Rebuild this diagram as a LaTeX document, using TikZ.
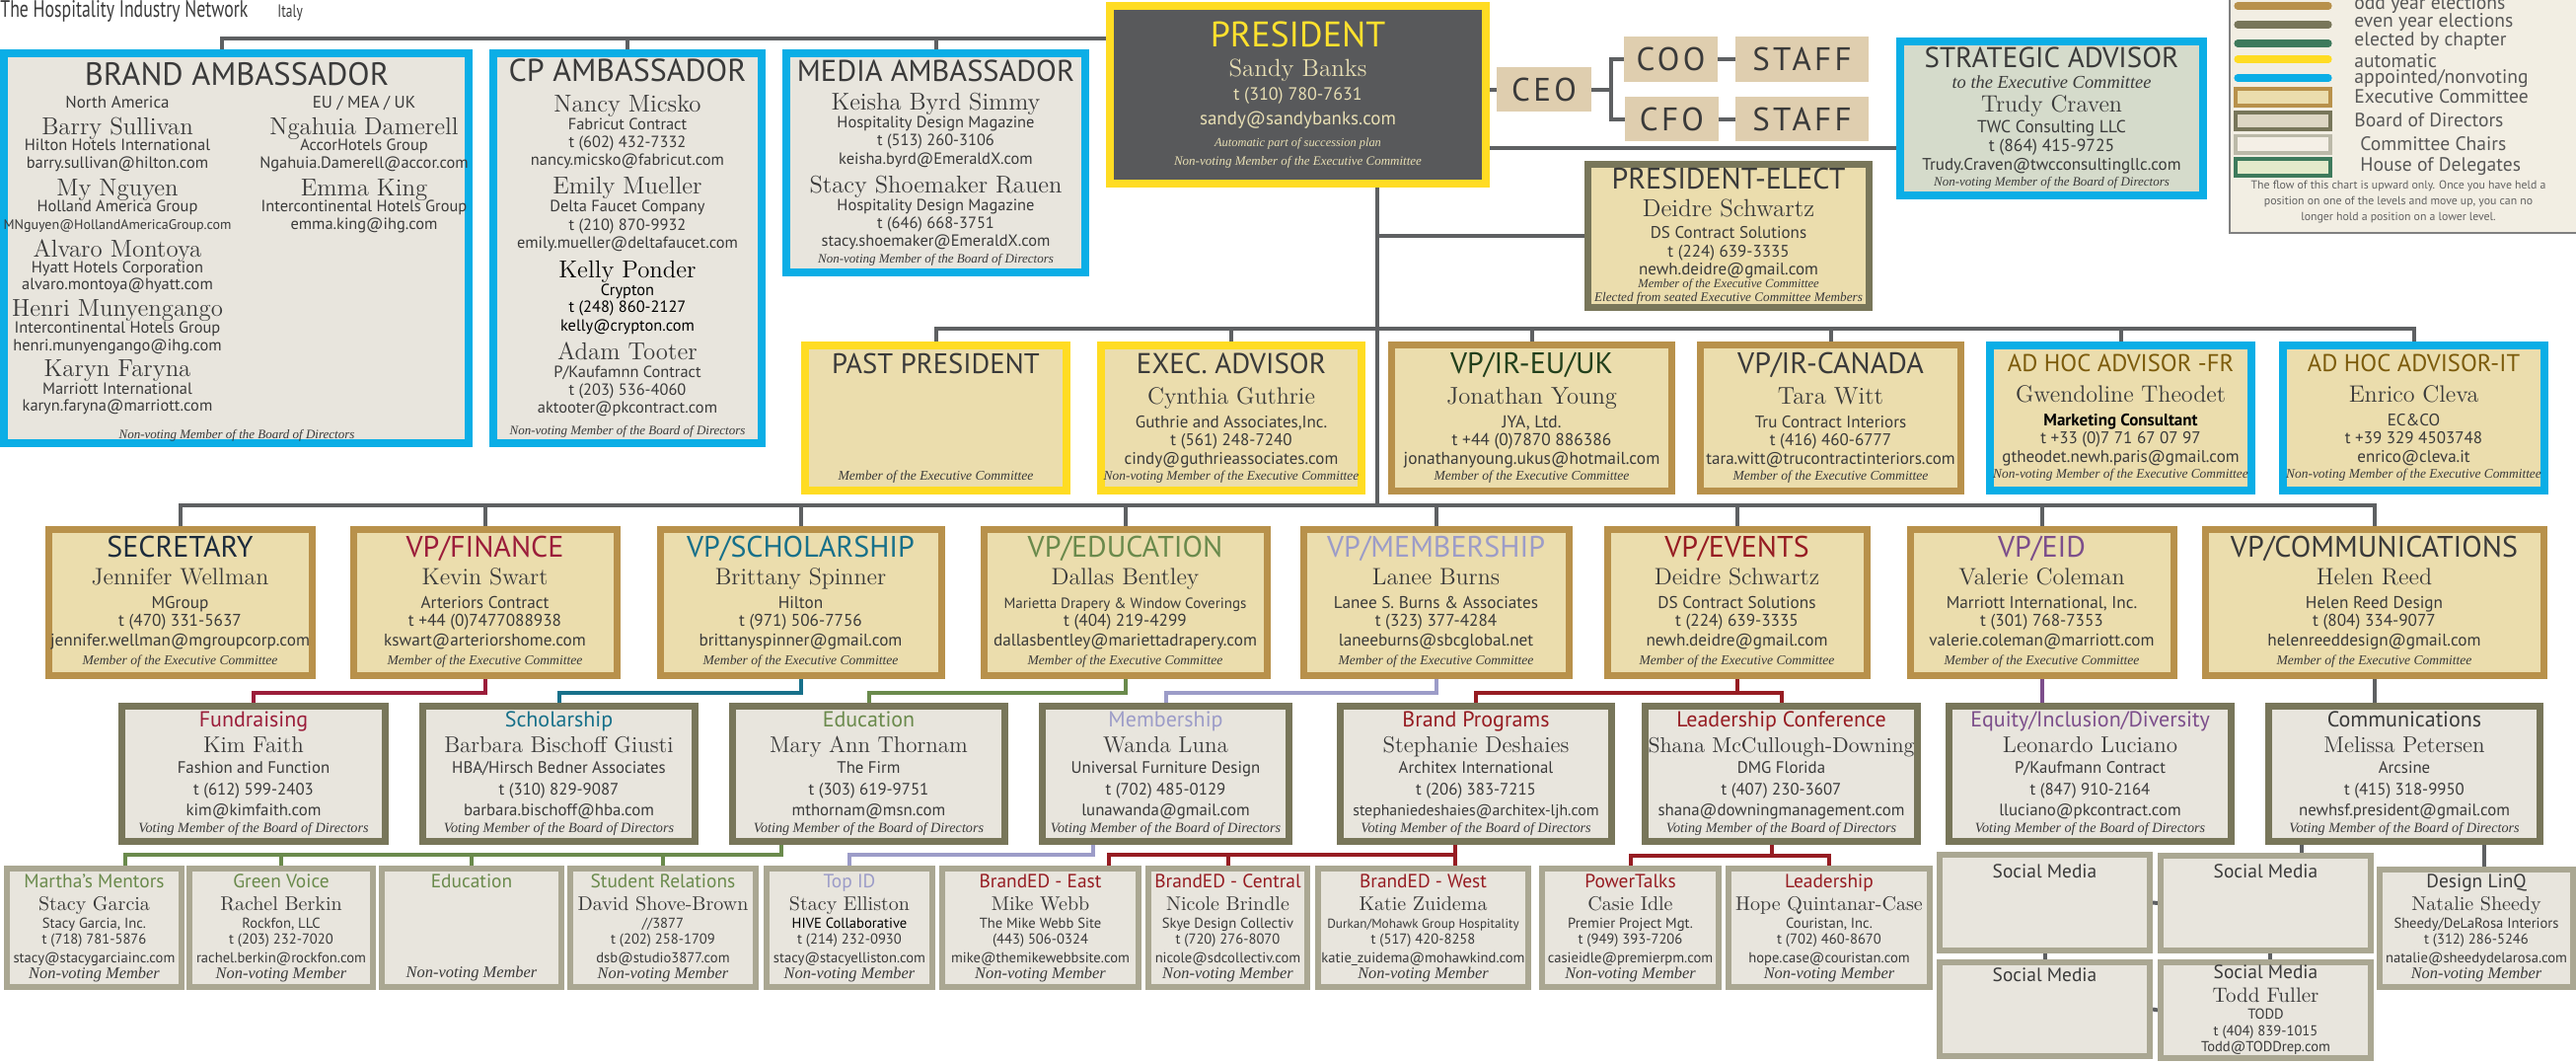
\documentclass[tikz,border=0pt]{standalone}
\usepackage{fontspec}
\setsansfont{PT Sans}
\newfontfamily\notefont{Liberation Serif}
\usepackage{graphicx}
\usepackage{tikz}
\usetikzlibrary{backgrounds}

\definecolor{apptblue}{HTML}{0BAEE6}
\definecolor{autoyel}{HTML}{FFDC23}
\definecolor{oddgold}{HTML}{B8914B}
\definecolor{evenolive}{HTML}{78765A}
\definecolor{chapgreen}{HTML}{3E7A5C}
\definecolor{chairgray}{HTML}{AAA792}
\definecolor{cream}{HTML}{EBDDAD}
\definecolor{stone}{HTML}{E8E5DD}
\definecolor{sage}{HTML}{D5DBCB}
\definecolor{slate}{HTML}{58595B}
\definecolor{ceotan}{HTML}{DFCEAF}
\definecolor{linkgray}{HTML}{5E6062}
\definecolor{inkgray}{HTML}{3A3A3A}
\definecolor{finred}{HTML}{9B1D3A}
\definecolor{schteal}{HTML}{17708A}
\definecolor{edugreen}{HTML}{6A8A4C}
\definecolor{memlav}{HTML}{9C9CC8}
\definecolor{evtred}{HTML}{961C22}
\definecolor{eidpurple}{HTML}{7C4E8B}
\definecolor{secnavy}{HTML}{1C2B3C}
\definecolor{irgreen}{HTML}{22401C}
\definecolor{adhocgold}{HTML}{7C5B0B}
\definecolor{paletan}{HTML}{E8DFB4}
\definecolor{presyel}{HTML}{FFE12E}
\definecolor{legendbg}{HTML}{F2EEE3}
\definecolor{boardfill}{HTML}{DDD6C3}
\definecolor{chairfill}{HTML}{F4EFE6}
\definecolor{housefill}{HTML}{E3EACB}

\newcommand\sff[1]{\sffamily\upshape\mdseries\fontsize{#1}{0}\selectfont}
\newcommand\rmf[1]{\rmfamily\upshape\fontsize{#1}{0}\selectfont}
\newcommand\itf[1]{\notefont\itshape\fontsize{#1}{0}\selectfont}
\newcommand\spaced{\addfontfeature{LetterSpace=10}}

\newcommand\vpcard[6]{{\sff{15}\color{#1}#2}\\[14pt]{\rmf{12}#3}\\[12pt]{\sff{8.6}#4}\\[9pt]{\sff{8.6}#5}\\[10pt]{\sff{8.6}#6}\\[9.5pt]{\itf{6.8}Member of the Executive Committee}}
\newcommand\bdcard[6]{{\sff{11}\color{#1}#2}\\[13pt]{\rmf{11.5}#3}\\[10.5pt]{\sff{8.4}#4}\\[11pt]{\sff{8.4}#5}\\[10.5pt]{\sff{8.4}#6}\\[8.5pt]{\itf{7.1}Voting Member of the Board of Directors}}
\newcommand\chcard[6]{{\sff{9.7}\color{#1}#2}\\[11.5pt]{\rmf{10}#3}\\[9pt]{\sff{7.3}#4}\\[8pt]{\sff{7.3}#5}\\[9.5pt]{\sff{7.3}#6}\\[8pt]{\itf{8.2}Non-voting Member}}

\begin{document}
\begin{tikzpicture}[x=0.5pt, y=-0.5pt,
  txt/.style={inner sep=0pt, align=center, text=inkgray, font={\fontsize{8}{0}\selectfont\lineskiplimit=-100pt\relax}},
  card/.style={txt, rectangle},
  appt/.style={card, draw=apptblue, line width=4pt, fill=stone},
  autobox/.style={card, draw=autoyel, line width=4pt, fill=cream},
  oddbox/.style={card, draw=oddgold, line width=3.5pt, fill=cream},
  evenbox/.style={card, draw=evenolive, line width=3.5pt, fill=stone},
  chairbox/.style={card, draw=chairgray, line width=3pt, fill=stone},
  tanbox/.style={card, fill=ceotan, font={\sff{16.5}\spaced}},
  wh/.style 2 args={minimum width=#1, minimum height=#2},
  link/.style={draw=linkgray, line width=2pt},
  swatch/.style={inner sep=0pt, line width=1.8pt, minimum width=48pt, minimum height=8.7pt},
  lglabel/.style={anchor=west, inner sep=0pt, text=inkgray!85, font=\sff{9.8}}]
\useasboundingbox (0,0) rectangle (2611,1076);

\node[anchor=west, inner sep=0pt, text=inkgray, font=\sff{12}] (title) at (0,11) {\scalebox{0.74}[1]{The Hospitality Industry Network}};
\node[anchor=west, inner sep=0pt, text=inkgray, font=\sff{9}] (country) at (281,13) {\scalebox{0.75}[1]{Italy}};

\node[appt, wh={235.5pt}{197.5pt}] (brand) at (239.5,251.5) {};
\node[txt] (brandhd) at (240,75) {\sff{16.3}BRAND AMBASSADOR};
\node[txt, anchor=north] (brandna) at (119,97) {{\sff{8.5}North America}\\[13.3pt]{\rmf{12.4}Barry Sullivan}\\[8.3pt]{\sff{8.2}Hilton Hotels International}\\[9pt]{\sff{8.2}barry.sullivan@hilton.com}\\[13.7pt]{\rmf{12.4}My Nguyen}\\[8.3pt]{\sff{8.2}Holland America Group}\\[9pt]{\sff{7}MNguyen@HollandAmericaGroup.com}\\[13.7pt]{\rmf{12.4}Alvaro Montoya}\\[8pt]{\sff{8.2}Hyatt Hotels Corporation}\\[8.5pt]{\sff{8.2}alvaro.montoya@hyatt.com}\\[13.7pt]{\rmf{12.4}Henri Munyengango}\\[8.3pt]{\sff{8.2}Intercontinental Hotels Group}\\[9pt]{\sff{8.2}henri.munyengango@ihg.com}\\[13.2pt]{\rmf{12.4}Karyn Faryna}\\[8.8pt]{\sff{8.2}Marriott International}\\[8.5pt]{\sff{8.2}karyn.faryna@marriott.com}};
\node[txt, anchor=north] (brandeu) at (369,97) {{\sff{8.5}EU / MEA / UK}\\[13.3pt]{\rmf{12.4}Ngahuia Damerell}\\[8.3pt]{\sff{8.2}AccorHotels Group}\\[9pt]{\sff{8.2}Ngahuia.Damerell@accor.com}\\[13.7pt]{\rmf{12.4}Emma King}\\[8.3pt]{\sff{8.2}Intercontinental Hotels Group}\\[9pt]{\sff{8.2}emma.king@ihg.com}};
\node[txt] (brandft) at (240,441) {\itf{6.5}Non-voting Member of the Board of Directors};

\node[appt, wh={136pt}{197.5pt}] (cp) at (636,251.5) {{\sff{16}CP AMBASSADOR}\\[15.3pt]{\rmf{12.4}Nancy Micsko}\\[9pt]{\sff{8.2}Fabricut Contract}\\[9pt]{\sff{8.2}t (602) 432-7332}\\[9pt]{\sff{8.2}nancy.micsko@fabricut.com}\\[14.5pt]{\rmf{12.4}Emily Mueller}\\[9pt]{\sff{8.2}Delta Faucet Company}\\[9.5pt]{\sff{8.2}t (210) 870-9932}\\[9pt]{\sff{8.2}emily.mueller@deltafaucet.com}\\[15pt]{\rmf{12.4}\color{black}Kelly Ponder}\\[9pt]{\sff{8.2}\color{black}Crypton}\\[8.5pt]{\sff{8.2}\color{black}t (248) 860-2127}\\[9.5pt]{\sff{8.2}\color{black}kelly@crypton.com}\\[14.5pt]{\rmf{12.4}Adam Tooter}\\[9pt]{\sff{8.2}P/Kaufamnn Contract}\\[9pt]{\sff{8.2}t (203) 536-4060}\\[9pt]{\sff{8.2}aktooter@pkcontract.com}\\[11.3pt]{\itf{6.5}Non-voting Member of the Board of Directors}};

\node[appt, wh={151.5pt}{111pt}] (media) at (948.5,165) {{\sff{15.2}MEDIA AMBASSADOR}\\[14.8pt]{\rmf{12.3}Keisha Byrd Simmy}\\[9pt]{\sff{8.2}Hospitality Design Magazine}\\[9pt]{\sff{8.2}t (513) 260-3106}\\[9.5pt]{\sff{8.2}keisha.byrd@EmeraldX.com}\\[14.5pt]{\rmf{12.3}Stacy Shoemaker Rauen}\\[9pt]{\sff{8.2}Hospitality Design Magazine}\\[9pt]{\sff{8.2}t (646) 668-3751}\\[9pt]{\sff{8.2}stacy.shoemaker@EmeraldX.com}\\[8.3pt]{\itf{6.5}Non-voting Member of the Board of Directors}};

\node[autobox, fill=slate, text=paletan, wh={190.5pt}{90pt}] (pres) at (1315.5,96) {{\sff{18}\color{presyel}PRESIDENT}\\[15pt]{\rmf{12.5}Sandy Banks}\\[12pt]{\sff{9}t (310) 780-7631}\\[12.5pt]{\sff{9.5}sandy@sandybanks.com}\\[11pt]{\itf{6.2}Automatic part of succession plan}\\[9.5pt]{\itf{6.5}Non-voting Member of the Executive Committee}};

\node[tanbox, wh={48pt}{22.5pt}] (ceo) at (1565,90.5) {CEO};
\node[tanbox, wh={47.5pt}{23pt}] (coo) at (1693.5,60) {COO};
\node[tanbox, wh={67.5pt}{23pt}] (staffa) at (1826.5,60) {STAFF};
\node[tanbox, wh={47.5pt}{22.5pt}] (cfo) at (1694.5,120.5) {CFO};
\node[tanbox, wh={67.5pt}{22.5pt}] (staffb) at (1826.5,120.5) {STAFF};

\node[appt, fill=sage, wh={153.5pt}{78pt}] (strat) at (2079.5,120) {{\sff{14.5}STRATEGIC ADVISOR}\\[10.5pt]{\itf{9.2}to the Executive Committee}\\[12pt]{\rmf{12}Trudy Craven}\\[10.5pt]{\sff{8.8}TWC Consulting LLC}\\[9.5pt]{\sff{8.8}t (864) 415-9725}\\[9.5pt]{\sff{8.5}Trudy.Craven@twcconsultingllc.com}\\[8pt]{\itf{6.5}Non-voting Member of the Board of Directors}};

\node[evenbox, fill=cream, wh={142.5pt}{72.5pt}] (pe) at (1752,239) {{\sff{15}PRESIDENT-ELECT}\\[14pt]{\rmf{12.5}Deidre Schwartz}\\[11pt]{\sff{8.5}DS Contract Solutions}\\[9.5pt]{\sff{8.5}t (224) 639-3335}\\[9pt]{\sff{8.5}newh.deidre@gmail.com}\\[6.5pt]{\itf{6.3}Member of the Executive Committee}\\[7pt]{\itf{6.6}Elected from seated Executive Committee Members}};

\node[autobox, wh={132.5pt}{73.5pt}] (pastp) at (948.5,423.5) {{\sff{14.3}PAST PRESIDENT}\\[54pt]{\itf{6.8}Member of the Executive Committee}};
\node[autobox, wh={132pt}{73.5pt}] (execadv) at (1248,423.5) {{\sff{14.5}EXEC. ADVISOR}\\[15.5pt]{\rmf{12}Cynthia Guthrie}\\[12pt]{\sff{8.5}Guthrie and Associates,Inc.}\\[9pt]{\sff{8.5}t (561) 248-7240}\\[9.5pt]{\sff{8.5}cindy@guthrieassociates.com}\\[8pt]{\itf{6.7}Non-voting Member of the Executive Committee}};
\node[oddbox, wh={142pt}{74pt}] (vpeu) at (1552.5,423.5) {{\sff{15}\color{irgreen}VP/IR-EU/UK}\\[15.5pt]{\rmf{12.3}Jonathan Young}\\[12pt]{\sff{8.7}JYA, Ltd.}\\[9pt]{\sff{8.7}t +44 (0)7870 886386}\\[9.5pt]{\sff{8.7}jonathanyoung.ukus@hotmail.com}\\[8pt]{\itf{6.8}Member of the Executive Committee}};
\node[oddbox, wh={132pt}{74pt}] (vpca) at (1855.5,423.5) {{\sff{15}VP/IR-CANADA}\\[15.5pt]{\rmf{12.3}Tara Witt}\\[12pt]{\sff{8.5}Tru Contract Interiors}\\[9pt]{\sff{8.5}t (416) 460-6777}\\[9.5pt]{\sff{8.5}tara.witt@trucontractinteriors.com}\\[8pt]{\itf{6.8}Member of the Executive Committee}};
\node[appt, fill=cream, wh={132.5pt}{73.5pt}] (ahfr) at (2149.5,423.5) {{\sff{12.3}\color{adhocgold}AD HOC ADVISOR -FR}\\[15.5pt]{\rmf{12}Gwendoline Theodet}\\[12pt]{\sff{8.5}\bfseries\color{black}Marketing Consultant}\\[9pt]{\sff{8.5}t +33 (0)7 71 67 07 97}\\[9.5pt]{\sff{8.5}gtheodet.newh.paris@gmail.com}\\[8pt]{\itf{6.7}Non-voting Member of the Executive Committee}};
\node[appt, fill=cream, wh={132.5pt}{73.5pt}] (ahit) at (2446.5,423.5) {{\sff{12.3}\color{adhocgold}AD HOC ADVISOR-IT}\\[15.5pt]{\rmf{12}Enrico Cleva}\\[12pt]{\sff{8.5}EC\&CO}\\[9pt]{\sff{8.5}t +39 329 4503748}\\[9.5pt]{\sff{8.5}enrico@cleva.it}\\[8pt]{\itf{6.7}Non-voting Member of the Executive Committee}};

\node[oddbox, wh={133.5pt}{74pt}] (secy) at (182.5,610) {\vpcard{secnavy}{SECRETARY}{Jennifer Wellman}{MGroup}{t (470) 331-5637}{jennifer.wellman@mgroupcorp.com}};
\node[oddbox, wh={133.5pt}{74pt}] (vpfin) at (491.5,610) {\vpcard{finred}{VP/FINANCE}{Kevin Swart}{Arteriors Contract}{t +44 (0)7477088938}{kswart@arteriorshome.com}};
\node[oddbox, wh={142.5pt}{74pt}] (vpsch) at (811.5,610) {\vpcard{schteal}{VP/SCHOLARSHIP}{Brittany Spinner}{Hilton}{t (971) 506-7756}{brittanyspinner@gmail.com}};
\node[oddbox, wh={143.5pt}{74pt}] (vpedu) at (1140.5,610) {\vpcard{edugreen}{VP/EDUCATION}{Dallas Bentley}{\fontsize{7.5}{0}\selectfont Marietta Drapery \& Window Coverings}{t (404) 219-4299}{dallasbentley@mariettadrapery.com}};
\node[oddbox, wh={134.5pt}{74pt}] (vpmem) at (1455.5,610) {\vpcard{memlav}{VP/MEMBERSHIP}{Lanee Burns}{Lanee S. Burns \& Associates}{t (323) 377-4284}{laneeburns@sbcglobal.net}};
\node[oddbox, wh={131.5pt}{74pt}] (vpevt) at (1760.5,610) {\vpcard{evtred}{VP/EVENTS}{Deidre Schwartz}{DS Contract Solutions}{t (224) 639-3335}{newh.deidre@gmail.com}};
\node[oddbox, wh={133.5pt}{74pt}] (vpeid) at (2069.5,610) {\vpcard{eidpurple}{VP/EID}{Valerie Coleman}{Marriott International, Inc.}{t (301) 768-7353}{valerie.coleman@marriott.com}};
\node[oddbox, wh={171.5pt}{74pt}] (vpcom) at (2406.5,610) {\vpcard{inkgray}{VP/COMMUNICATIONS}{Helen Reed}{Helen Reed Design}{t (804) 334-9077}{helenreeddesign@gmail.com}};

\node[evenbox, wh={133.5pt}{68.5pt}] (fund) at (257,784) {\bdcard{finred}{Fundraising}{Kim Faith}{Fashion and Function}{t (612) 599-2403}{kim@kimfaith.com}};
\node[evenbox, wh={138pt}{68.5pt}] (schol) at (566.5,784) {\bdcard{schteal}{Scholarship}{Barbara Bischoff Giusti}{HBA/Hirsch Bedner Associates}{t (310) 829-9087}{barbara.bischoff@hba.com}};
\node[evenbox, wh={138pt}{68.5pt}] (educ) at (880.5,784) {\bdcard{edugreen}{Education}{Mary Ann Thornam}{The Firm}{t (303) 619-9751}{mthornam@msn.com}};
\node[evenbox, wh={125pt}{68.5pt}] (memb) at (1181.5,784) {\bdcard{memlav}{Membership}{Wanda Luna}{Universal Furniture Design}{t (702) 485-0129}{lunawanda@gmail.com}};
\node[evenbox, wh={137.5pt}{68.5pt}] (brandp) at (1496,784) {\bdcard{evtred}{Brand Programs}{Stephanie Deshaies}{Architex International}{t (206) 383-7215}{\fontsize{7.9}{0}\selectfont stephaniedeshaies@architex-ljh.com}};
\node[evenbox, wh={138pt}{68.5pt}] (leadc) at (1805.5,784) {\bdcard{evtred}{Leadership Conference}{\fontsize{10.8}{0}\selectfont Shana McCullough-Downing}{DMG Florida}{t (407) 230-3607}{shana@downingmanagement.com}};
\node[evenbox, wh={143pt}{68.5pt}] (equity) at (2118.5,784) {\bdcard{eidpurple}{Equity/Inclusion/Diversity}{Leonardo Luciano}{P/Kaufmann Contract}{t (847) 910-2164}{lluciano@pkcontract.com}};
\node[evenbox, wh={137.5pt}{68.5pt}] (comms) at (2437,784) {\bdcard{inkgray}{Communications}{Melissa Petersen}{Arcsine}{t (415) 318-9950}{newhsf.president@gmail.com}};

\node[chairbox, wh={88.5pt}{60pt}] (mentor) at (95.5,940) {\chcard{edugreen}{Martha's Mentors}{Stacy Garcia}{Stacy Garcia, Inc.}{t (718) 781-5876}{stacy@stacygarciainc.com}};
\node[chairbox, wh={93pt}{60pt}] (greenv) at (285,940) {\chcard{edugreen}{Green Voice}{Rachel Berkin}{Rockfon, LLC}{t (203) 232-7020}{rachel.berkin@rockfon.com}};
\node[chairbox, wh={91pt}{60pt}] (edu2) at (478,940) {{\sff{9.7}\color{edugreen}Education}\\[45.6pt]{\itf{8.2}Non-voting Member}};
\node[chairbox, wh={94pt}{60pt}] (studr) at (672,940) {\chcard{edugreen}{Student Relations}{David Shove-Brown}{//3877}{t (202) 258-1709}{dsb@studio3877.com}};
\node[chairbox, wh={84pt}{60pt}] (topid) at (861,940) {\chcard{memlav}{Top ID}{Stacy Elliston}{\color{black}HIVE Collaborative}{t (214) 232-0930}{stacy@stacyelliston.com}};
\node[chairbox, wh={99.5pt}{60pt}] (bedeast) at (1054.5,940) {\chcard{evtred}{BrandED - East}{Mike Webb}{The Mike Webb Site}{(443) 506-0324}{mike@themikewebbsite.com}};
\node[chairbox, wh={80.5pt}{60pt}] (bedcen) at (1244.5,940) {\chcard{evtred}{BrandED - Central}{Nicole Brindle}{Skye Design Collectiv}{t (720) 276-8070}{nicole@sdcollectiv.com}};
\node[chairbox, wh={106.5pt}{60pt}] (bedwest) at (1442.5,940) {\chcard{evtred}{BrandED - West}{Katie Zuidema}{\fontsize{6.6}{0}\selectfont Durkan/Mohawk Group Hospitality}{t (517) 420-8258}{katie\_zuidema@mohawkind.com}};
\node[chairbox, wh={89.5pt}{60pt}] (power) at (1652.5,940) {\chcard{evtred}{PowerTalks}{Casie Idle}{Premier Project Mgt.}{t (949) 393-7206}{casieidle@premierpm.com}};
\node[chairbox, wh={102pt}{60pt}] (leader) at (1854,940) {\chcard{evtred}{Leadership}{Hope Quintanar-Case}{Couristan, Inc.}{t (702) 460-8670}{hope.case@couristan.com}};
\node[chairbox, wh={106.5pt}{48.5pt}] (soc1) at (2072.5,914.5) {{\sff{9.7}Social Media}\\[32pt]\mbox{}};
\node[chairbox, wh={106.5pt}{48pt}] (soc2) at (2296.5,915) {{\sff{9.7}Social Media}\\[32pt]\mbox{}};
\node[chairbox, wh={106.5pt}{47.5pt}] (soc3) at (2072.5,1022.5) {{\sff{9.7}Social Media}\\[34.5pt]\mbox{}};
\node[chairbox, wh={106.5pt}{48.5pt}] (soc4) at (2296.5,1023.5) {{\sff{9.7}Social Media}\\[12pt]{\rmf{10.5}Todd Fuller}\\[8.5pt]{\sff{7.3}TODD}\\[8.5pt]{\sff{7.3}t (404) 839-1015}\\[8pt]{\sff{7.3}Todd@TODDrep.com}};
\node[chairbox, wh={98pt}{59.5pt}] (linq) at (2510,940.5) {\chcard{inkgray}{Design LinQ}{Natalie Sheedy}{Sheedy/DeLaRosa Interiors}{t (312) 286-5246}{natalie@sheedydelarosa.com}};

\fill[legendbg] (2260,-10) rectangle (2625,236);
\draw[draw=gray, line width=0.9pt] (2260,-10) -- (2260,236) -- (2625,236);
\draw[line width=3.6pt, line cap=round, draw=oddgold] (2268,6) -- (2360,6);
\draw[line width=3.6pt, line cap=round, draw=evenolive] (2268,25) -- (2360,25);
\draw[line width=3.6pt, line cap=round, draw=chapgreen] (2268,44) -- (2360,44);
\draw[line width=3.6pt, line cap=round, draw=autoyel] (2268,60) -- (2360,60);
\draw[line width=3.6pt, line cap=round, draw=apptblue] (2268,79) -- (2360,79);
\node[swatch, draw=oddgold, fill=cream] (swexec) at (2314,98.5) {};
\node[swatch, draw=evenolive, fill=boardfill] (swboard) at (2314,122.5) {};
\node[swatch, draw=chairgray!80, fill=chairfill] (swchair) at (2314,146) {};
\node[swatch, draw=chapgreen, fill=housefill] (swhouse) at (2314,169.5) {};
\node[lglabel] (lgodd) at (2386,5) {odd year elections};
\node[lglabel] (lgeven) at (2386,23) {even year elections};
\node[lglabel] (lgchap) at (2386,42) {elected by chapter};
\node[lglabel] (lgauto) at (2386,62) {automatic};
\node[lglabel] (lgappt) at (2386,80) {appointed/nonvoting};
\node[lglabel] (lgexec) at (2386,98) {Executive Committee};
\node[lglabel] (lgboard) at (2386,122) {Board of Directors};
\node[lglabel] (lgchair) at (2392,146) {Committee Chairs};
\node[lglabel] (lghouse) at (2392,169) {House of Delegates};
\node[txt, text=inkgray!80] (lgnote) at (2431,205) {{\sff{5.9}The flow of this chart is upward only. Once you have held a}\\[8pt]{\sff{5.9}position on one of the levels and move up, you can no}\\[8pt]{\sff{5.9}longer hold a position on a lower level.}};

\begin{scope}[on background layer]
\coordinate (bus1) at (225,39);
\draw[link] (bus1 |- brand.north) -- (bus1) -- (bus1 -| pres.west);
\draw[link] (cp.north) -- (cp.north |- bus1);
\draw[link] (media.north) -- (media.north |- bus1);
\draw[link] (pres.east |- ceo.west) -- (ceo.west);
\coordinate (brk) at (1633,90.5);
\draw[link] (ceo.east) -- (brk);
\draw[link] (coo.west) -| (brk) |- (cfo.west);
\draw[link] (coo.east) -- (staffa.west);
\draw[link] (cfo.east) -- (staffb.west);
\draw[link] ([yshift=-27pt]pres.east) -- ([yshift=-27pt]pres.east -| strat.west);
\coordinate (tk) at (1396,190);
\coordinate (bus2) at (1396,333);
\coordinate (bus3) at (1396,512);
\draw[link] (tk |- pres.south) -- (bus3);
\draw[link] (tk |- pe.west) -- (pe.west);
\draw[link] (pastp.north) |- (bus2) -| (ahit.north);
\foreach \n in {execadv,vpeu,vpca,ahfr}
  \draw[link] (\n.north) -- (\n.north |- bus2);
\draw[link] (secy.north) |- (bus3) -| (vpcom.north);
\foreach \n in {vpfin,vpsch,vpedu,vpmem,vpevt,vpeid}
  \draw[link] (\n.north) -- (\n.north |- bus3);
\draw[link, draw=finred] (vpfin.south) -- ++(0,14) -| (fund.north);
\draw[link, draw=schteal] (vpsch.south) -- ++(0,14) -| (schol.north);
\draw[link, draw=edugreen] (vpedu.south) -- ++(0,14) -| (educ.north);
\draw[link, draw=memlav] (vpmem.south) -- ++(0,14) -| (memb.north);
\draw[link, draw=evtred] (vpevt.south) -- ++(0,14) coordinate (evb);
\draw[link, draw=evtred] (brandp.north) |- (evb) -| (leadc.north);
\draw[link, draw=eidpurple] (vpeid.south) -- (vpeid.south |- equity.north);
\draw[link] (vpcom.south) -- (vpcom.south |- comms.north);
\coordinate (edb) at (792,866);
\draw[link, draw=edugreen] (edb |- educ.south) -- (edb) -| ([xshift=15.75pt]mentor.north);
\foreach \n in {greenv,edu2,studr}
  \draw[link, draw=edugreen] (\n.north) -- (\n.north |- edb);
\coordinate (mbb) at (1108,866);
\draw[link, draw=memlav] (mbb |- memb.south) -- (mbb) -| (topid.north);
\coordinate (bpb) at (1475,866);
\draw[link, draw=evtred] (bpb |- brandp.south) -- (bpb |- bedwest.north);
\draw[link, draw=evtred] (bpb) -| ([xshift=34.75pt]bedeast.north);
\draw[link, draw=evtred] (bedcen.north) -- (bedcen.north |- bpb);
\coordinate (lcb) at (1796,867);
\draw[link, draw=evtred] (lcb |- leadc.south) -- (lcb);
\draw[link, draw=evtred] (power.north) |- (lcb) -| (leader.north);
\draw[link] ([xshift=18.25pt]soc2.north) -- ([xshift=18.25pt]soc2.north |- comms.south);
\draw[link] ([xshift=4pt]linq.north) -- ([xshift=4pt]linq.north |- comms.south);
\draw[link] (soc1.east) -- (soc2.west);
\draw[link] (soc3.east) -- (soc4.west);
\draw[link] (soc1.south) -- (soc3.north);
\draw[link] ([xshift=2pt]soc2.south) -- ([xshift=2pt]soc4.north);
\end{scope}
\end{tikzpicture}
\end{document}
